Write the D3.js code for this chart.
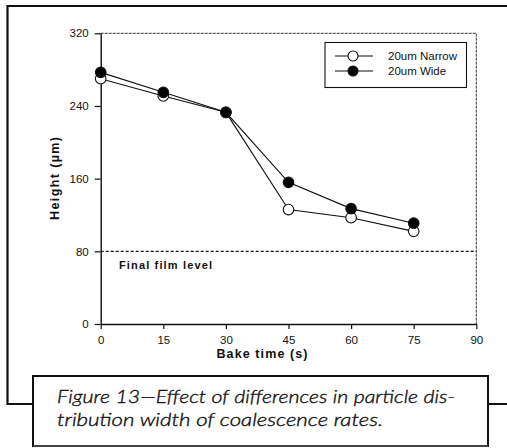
<!DOCTYPE html>
<html>
<head>
<meta charset="utf-8">
<script src="https://cdn.jsdelivr.net/npm/d3@7/dist/d3.min.js"></script>
<style>
  html, body { margin: 0; padding: 0; background: #fff; }
  svg { display: block; }
  .ax text { font-family: "Liberation Sans", Arial, sans-serif; font-size: 11.5px; fill: #111; }
</style>
</head>
<body>
<svg id="chart" width="507" height="448"></svg>
<script>
// Bake time (s) and film height (µm) for the two particle distributions
const bakeTimes = [0, 15, 30, 45, 60, 75];
const narrowHeights = [270, 251, 233, 126, 117, 102];
const wideHeights = [277, 255, 233, 156, 127, 111];
const xTicks = [0, 15, 30, 45, 60, 75, 90];
const yTicks = [0, 80, 160, 240, 320];
const finalFilmLevel = 80;
const seriesNames = ["20um Narrow", "20um Wide"];
const captionLines = [
  "Figure 13\u2014Effect of differences in particle dis-",
  "tribution width of coalescence rates."
];

const svg = d3.select("#chart");
const x = d3.scaleLinear().domain([0, 90]).range([100.7, 476.3]);
const y = d3.scaleLinear().domain([0, 320]).range([324, 33.3]);

// outer page frame
svg.append("path")
  .attr("d", "M507,6 H7.5 V404 H33 M488,404 H507")
  .attr("fill", "none").attr("stroke", "#111").attr("stroke-width", 2.2);

// caption box
svg.append("rect")
  .attr("x", 33).attr("y", 376).attr("width", 455).attr("height", 70)
  .attr("fill", "#fff").attr("stroke", "#111").attr("stroke-width", 2);
svg.append("line").attr("x1", 33).attr("x2", 488).attr("y1", 446).attr("y2", 446)
  .attr("stroke", "#777").attr("stroke-width", 1);

const capWidths = [398, 326];
svg.selectAll("text.cap").data(captionLines).join("text")
  .attr("class", "cap")
  .attr("x", 57).attr("y", (d, i) => 403 + i * 23)
  .attr("textLength", (d, i) => capWidths[i])
  .attr("lengthAdjust", "spacingAndGlyphs")
  .style("font-family", "Lato, 'Open Sans', sans-serif")
  .style("font-style", "italic").style("font-weight", "300")
  .style("font-size", "17px").style("fill", "#111")
  .style("stroke", "#111").style("stroke-width", "0.35px")
  .text(d => d);

// plot frame: top and right edges
svg.append("path")
  .attr("d", `M${x(0)},${y(320)} H${x(90)} V${y(0)}`)
  .attr("fill", "none").attr("stroke", "#333").attr("stroke-width", 1)
  .attr("stroke-dasharray", "3,1");

// axes
const gx = svg.append("g").attr("class", "ax")
  .attr("transform", `translate(0,${y(0)})`)
  .call(d3.axisBottom(x).tickValues(xTicks).tickSize(5).tickSizeOuter(0).tickPadding(7));
const gy = svg.append("g").attr("class", "ax")
  .attr("transform", `translate(${x(0)},0)`)
  .call(d3.axisLeft(y).tickValues(yTicks).tickSize(6).tickSizeOuter(0).tickPadding(6));
gx.select(".domain").attr("stroke", "#111").attr("stroke-width", 1.6);
gy.select(".domain").attr("stroke", "#111").attr("stroke-width", 1.4);
svg.selectAll(".ax .tick line").attr("stroke", "#111").attr("stroke-width", 1.2);

// axis titles
svg.append("text")
  .attr("x", 262).attr("y", 358).attr("text-anchor", "middle")
  .attr("textLength", 91).attr("lengthAdjust", "spacing")
  .style("font-family", "'Liberation Sans', Arial, sans-serif")
  .style("font-weight", "bold").style("font-size", "12.5px").style("fill", "#111")
  .text("Bake time (s)");
svg.append("text")
  .attr("transform", "translate(59,178.5) rotate(-90)")
  .attr("text-anchor", "middle")
  .attr("textLength", 83).attr("lengthAdjust", "spacing")
  .style("font-family", "'Liberation Sans', Arial, sans-serif")
  .style("font-weight", "bold").style("font-size", "12.5px").style("fill", "#111")
  .text("Height (\u00b5m)");

// final film level reference line
svg.append("line")
  .attr("x1", x(0)).attr("x2", x(90))
  .attr("y1", y(finalFilmLevel)).attr("y2", y(finalFilmLevel))
  .attr("stroke", "#111").attr("stroke-width", 1.2).attr("stroke-dasharray", "3,2");
svg.append("text")
  .attr("x", 119).attr("y", y(finalFilmLevel) + 18)
  .attr("textLength", 93).attr("lengthAdjust", "spacing")
  .style("font-family", "'Liberation Sans', Arial, sans-serif")
  .style("font-weight", "bold").style("font-size", "11px").style("fill", "#111")
  .text("Final film level");

// series lines and markers
const series = [
  { name: seriesNames[0], values: narrowHeights, fill: "#fff" },
  { name: seriesNames[1], values: wideHeights, fill: "#000" }
];
const line = d3.line().x((d, i) => x(bakeTimes[i])).y(d => y(d));
series.forEach(s => {
  svg.append("path").attr("d", line(s.values))
    .attr("fill", "none").attr("stroke", "#111").attr("stroke-width", 1.1);
});
series.forEach(s => {
  svg.append("g").selectAll("circle").data(s.values).join("circle")
    .attr("cx", (d, i) => x(bakeTimes[i])).attr("cy", d => y(d)).attr("r", 5.3)
    .attr("fill", s.fill).attr("stroke", "#111").attr("stroke-width", 1.1);
});

// legend
const lg = svg.append("g");
lg.append("rect").attr("x", 325).attr("y", 42.5).attr("width", 141.5).attr("height", 45)
  .attr("fill", "#fff").attr("stroke", "#111").attr("stroke-width", 1.1);
series.forEach((s, i) => {
  const ly = 56 + i * 15;
  lg.append("line").attr("x1", 335).attr("x2", 373).attr("y1", ly).attr("y2", ly)
    .attr("stroke", "#111").attr("stroke-width", 1.1);
  lg.append("circle").attr("cx", 353).attr("cy", ly).attr("r", 5)
    .attr("fill", s.fill).attr("stroke", "#111").attr("stroke-width", 1.1);
  lg.append("text").attr("x", 388).attr("y", ly + 4)
    .style("font-family", "'Liberation Sans', Arial, sans-serif")
    .style("font-size", "11.5px").style("fill", "#111")
    .text(s.name);
});
</script>
</body>
</html>
